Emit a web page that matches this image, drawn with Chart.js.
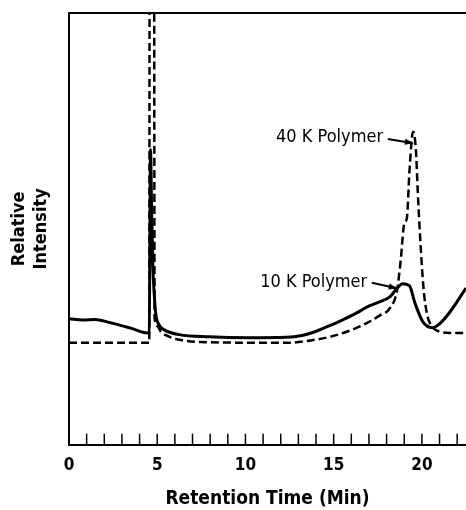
<!DOCTYPE html>
<html>
<head>
<meta charset="utf-8">
<script src="https://cdn.jsdelivr.net/npm/chart.js@4.4.1/dist/chart.umd.min.js"></script>
<style>
  html, body { margin: 0; padding: 0; background: #fff; }
  #wrap { width: 466px; height: 510px; }
</style>
</head>
<body>
<div id="wrap"><canvas id="chart"></canvas></div>
<script>
// Retention time (min) and relative intensity
const time10K = [0, 0.8, 1.5, 2.2, 3.5, 4.43, 4.55, 4.62, 4.68, 4.75, 4.9, 5.1, 5.4, 6.25, 7.95, 10.2, 12.3, 13.2, 13.9, 14.5, 15.3, 16.2, 17.05, 17.6, 18.2, 18.6, 18.9, 19.3, 19.6, 20.05, 20.6, 21.0, 21.6, 22.5];
const intensity10K = [29.2, 28.9, 29.0, 28.4, 27.0, 25.9, 26.0, 68.3, 55.0, 42.0, 31.0, 27.8, 26.6, 25.5, 25.0, 24.8, 24.9, 25.3, 26.1, 27.1, 28.5, 30.3, 32.2, 33.1, 34.3, 36.3, 37.3, 36.8, 32.9, 28.5, 27.1, 28.0, 30.8, 36.3];

const time40K = [0, 4.5, 4.55, 4.57, 4.82, 4.85, 5.0, 5.2, 5.7, 6.25, 7.4, 12.5, 13.6, 14.8, 15.9, 16.8, 17.6, 18.2, 18.6, 18.8, 19.0, 19.15, 19.3, 19.5, 19.66, 19.77, 19.9, 20.1, 20.3, 20.5, 21.0, 21.6, 22.5];
const intensity40K = [23.6, 23.6, 23.6, 120, 120, 29.5, 27.5, 26.2, 25.0, 24.3, 23.8, 23.6, 24.1, 25.0, 26.4, 28.0, 29.9, 31.7, 35.9, 42.8, 51.2, 52.5, 63.7, 72.5, 68.3, 58.3, 48.1, 35.9, 30.1, 27.8, 26.2, 25.9, 25.9];

const xTickLabels = [0, 5, 10, 15, 20];
const minorTicks = [1, 2, 3, 4, 5, 6, 7, 8, 9, 10, 11, 12, 13, 14, 15, 16, 17, 18, 19, 20, 21, 22];

const narrow = "'Liberation Sans Narrow', 'DejaVu Sans Condensed', 'Arial Narrow', sans-serif";

// callouts: text end point and arrow, in data units
const callouts = [
    { text: '40 K Polymer', at: [17.8, 71.3], from: [18.07, 70.8], to: [19.43, 69.9] },
    { text: '10 K Polymer', at: [16.9, 37.7], from: [17.16, 37.5], to: [18.52, 36.3] },
];

const overlay = {
    id: 'overlay',
    afterDatasetsDraw(chart) {
        const { ctx, chartArea: a, scales: { x, y } } = chart;
        ctx.save();
        ctx.strokeStyle = '#000';
        ctx.fillStyle = '#000';

        // top frame line
        ctx.lineWidth = 2;
        ctx.beginPath();
        ctx.moveTo(a.left, a.top);
        ctx.lineTo(a.right, a.top);
        ctx.stroke();

        // inward tick marks on the time axis
        ctx.lineWidth = 1.5;
        minorTicks.forEach(t => {
            const px = x.getPixelForValue(t);
            ctx.beginPath();
            ctx.moveTo(px, a.bottom);
            ctx.lineTo(px, a.bottom - 11);
            ctx.stroke();
        });

        // callout labels with arrows
        ctx.font = '18px ' + narrow;
        ctx.textAlign = 'right';
        ctx.textBaseline = 'middle';
        callouts.forEach(c => {
            ctx.fillText(c.text, x.getPixelForValue(c.at[0]), y.getPixelForValue(c.at[1]));
            const x1 = x.getPixelForValue(c.from[0]), y1 = y.getPixelForValue(c.from[1]);
            const x2 = x.getPixelForValue(c.to[0]), y2 = y.getPixelForValue(c.to[1]);
            ctx.lineWidth = 2;
            ctx.beginPath();
            ctx.moveTo(x1, y1);
            ctx.lineTo(x2, y2);
            ctx.stroke();
            const ang = Math.atan2(y2 - y1, x2 - x1);
            ctx.beginPath();
            ctx.moveTo(x2 + 2 * Math.cos(ang), y2 + 2 * Math.sin(ang));
            ctx.lineTo(x2 - 7 * Math.cos(ang) + 3 * Math.sin(ang), y2 - 7 * Math.sin(ang) - 3 * Math.cos(ang));
            ctx.lineTo(x2 - 7 * Math.cos(ang) - 3 * Math.sin(ang), y2 - 7 * Math.sin(ang) + 3 * Math.cos(ang));
            ctx.closePath();
            ctx.fill();
        });
        ctx.restore();
    }
};

new Chart(document.getElementById('chart'), {
    type: 'line',
    data: {
        datasets: [
            {
                label: '10 K Polymer',
                data: time10K.map((t, i) => ({ x: t, y: intensity10K[i] })),
                borderColor: '#000',
                borderWidth: 3,
                pointRadius: 0,
                cubicInterpolationMode: 'monotone',
            },
            {
                label: '40 K Polymer',
                data: time40K.map((t, i) => ({ x: t, y: intensity40K[i] })),
                borderColor: '#000',
                borderWidth: 2.5,
                borderDash: [8, 4],
                pointRadius: 0,
                cubicInterpolationMode: 'monotone',
            },
        ]
    },
    options: {
        responsive: true,
        maintainAspectRatio: false,
        animation: false,
        layout: { padding: { left: 8, top: 13, right: 0, bottom: 0 } },
        plugins: {
            legend: { display: false },
            tooltip: { enabled: false },
        },
        scales: {
            x: {
                type: 'linear',
                min: 0,
                max: 22.5,
                grid: { display: true, drawOnChartArea: false, drawTicks: true, tickLength: 11, color: 'rgba(0,0,0,0)' },
                border: { display: true, color: '#000', width: 2 },
                ticks: {
                    stepSize: 1,
                    autoSkip: false,
                    maxRotation: 0,
                    padding: 0,
                    color: '#000',
                    font: { family: narrow, size: 17, weight: 'bold' },
                    callback: v => xTickLabels.includes(v) ? String(v) : '',
                },
                title: {
                    display: true,
                    text: 'Retention Time (Min)',
                    color: '#000',
                    font: { family: narrow, size: 19, weight: 'bold', lineHeight: 1.1 },
                    padding: { top: 13, bottom: 0 },
                },
            },
            y: {
                min: 0,
                max: 100,
                grid: { display: false, drawTicks: false },
                border: { display: true, color: '#000', width: 2 },
                ticks: { display: false },
                title: {
                    display: true,
                    text: ['Relative', 'Intensity'],
                    color: '#000',
                    font: { family: narrow, size: 18, weight: 'bold', lineHeight: 1.25 },
                    padding: { top: 0, bottom: 16 },
                },
            },
        },
    },
    plugins: [overlay],
});
</script>
</body>
</html>
